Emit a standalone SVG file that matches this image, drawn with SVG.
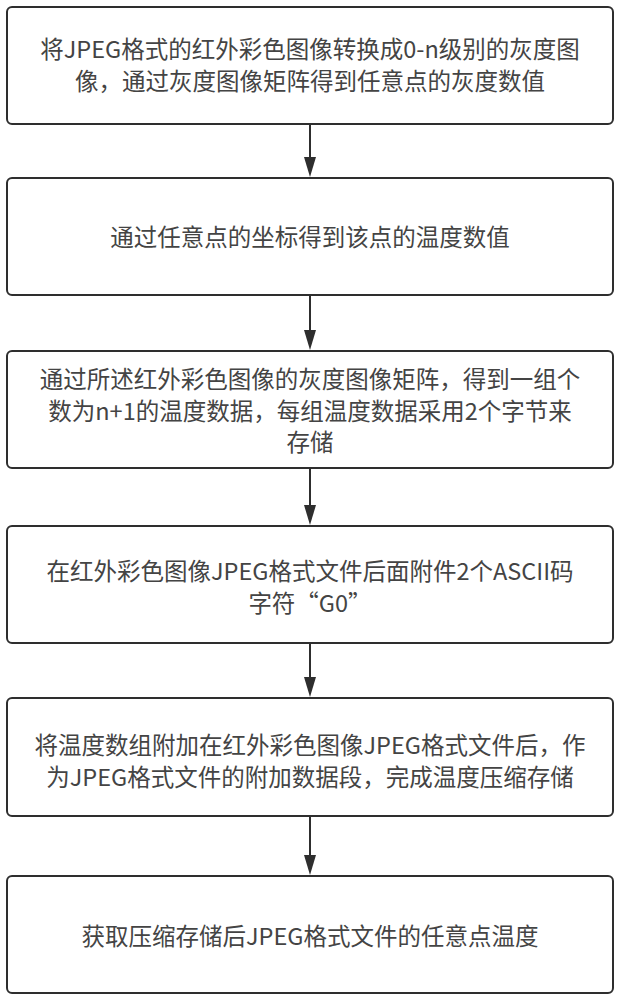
<svg xmlns="http://www.w3.org/2000/svg" width="619" height="1000" viewBox="0 0 619 1000">
<style>
.box{fill:#fff;stroke:#2e2e2e;stroke-width:2}
.t{font-family:"Microsoft YaHei","Noto Sans CJK SC","Noto Sans",sans-serif;font-size:23.5px;fill:#444;text-anchor:middle}
.c{stroke:#2e2e2e;stroke-width:2;fill:none}
.h{fill:#2e2e2e}
</style>
<rect width="619" height="1000" fill="#fff"/>
<g id="connectors">
<line class="c" x1="310" y1="124" x2="310" y2="158"/><path class="h" d="M304,157 L316,157 L310,177 Z"/>
<line class="c" x1="310" y1="295" x2="310" y2="331"/><path class="h" d="M304,330 L316,330 L310,350 Z"/>
<line class="c" x1="310" y1="468" x2="310" y2="506"/><path class="h" d="M304,505 L316,505 L310,525 Z"/>
<line class="c" x1="310" y1="643" x2="310" y2="678"/><path class="h" d="M304,677 L316,677 L310,697 Z"/>
<line class="c" x1="310" y1="816" x2="310" y2="856"/><path class="h" d="M304,855 L316,855 L310,875 Z"/>
</g>
<g id="n1">
<rect class="box" x="7" y="7" width="606" height="117" rx="5"/>
<text class="t" x="310" y="58">将JPEG格式的红外彩色图像转换成0-n级别的灰度图</text>
<text class="t" x="310" y="90">像，通过灰度图像矩阵得到任意点的灰度数值</text>
</g>
<g id="n2">
<rect class="box" x="7" y="178" width="606" height="117" rx="5"/>
<text class="t" x="310" y="246">通过任意点的坐标得到该点的温度数值</text>
</g>
<g id="n3">
<rect class="box" x="7" y="351" width="606" height="117" rx="5"/>
<text class="t" x="310" y="388">通过所述红外彩色图像的灰度图像矩阵，得到一组个</text>
<text class="t" x="310" y="420">数为n+1的温度数据，每组温度数据采用2个字节来</text>
<text class="t" x="310" y="451">存储</text>
</g>
<g id="n4">
<rect class="box" x="7" y="526" width="606" height="117" rx="5"/>
<text class="t" x="310" y="580">在红外彩色图像JPEG格式文件后面附件2个ASCII码</text>
<text class="t" x="310" y="612">字符“G0”</text>
</g>
<g id="n5">
<rect class="box" x="7" y="698" width="606" height="118" rx="5"/>
<text class="t" x="310" y="754">将温度数组附加在红外彩色图像JPEG格式文件后，作</text>
<text class="t" x="310" y="786">为JPEG格式文件的附加数据段，完成温度压缩存储</text>
</g>
<g id="n6">
<rect class="box" x="7" y="876" width="606" height="117" rx="5"/>
<text class="t" x="310" y="945">获取压缩存储后JPEG格式文件的任意点温度</text>
</g>
</svg>
